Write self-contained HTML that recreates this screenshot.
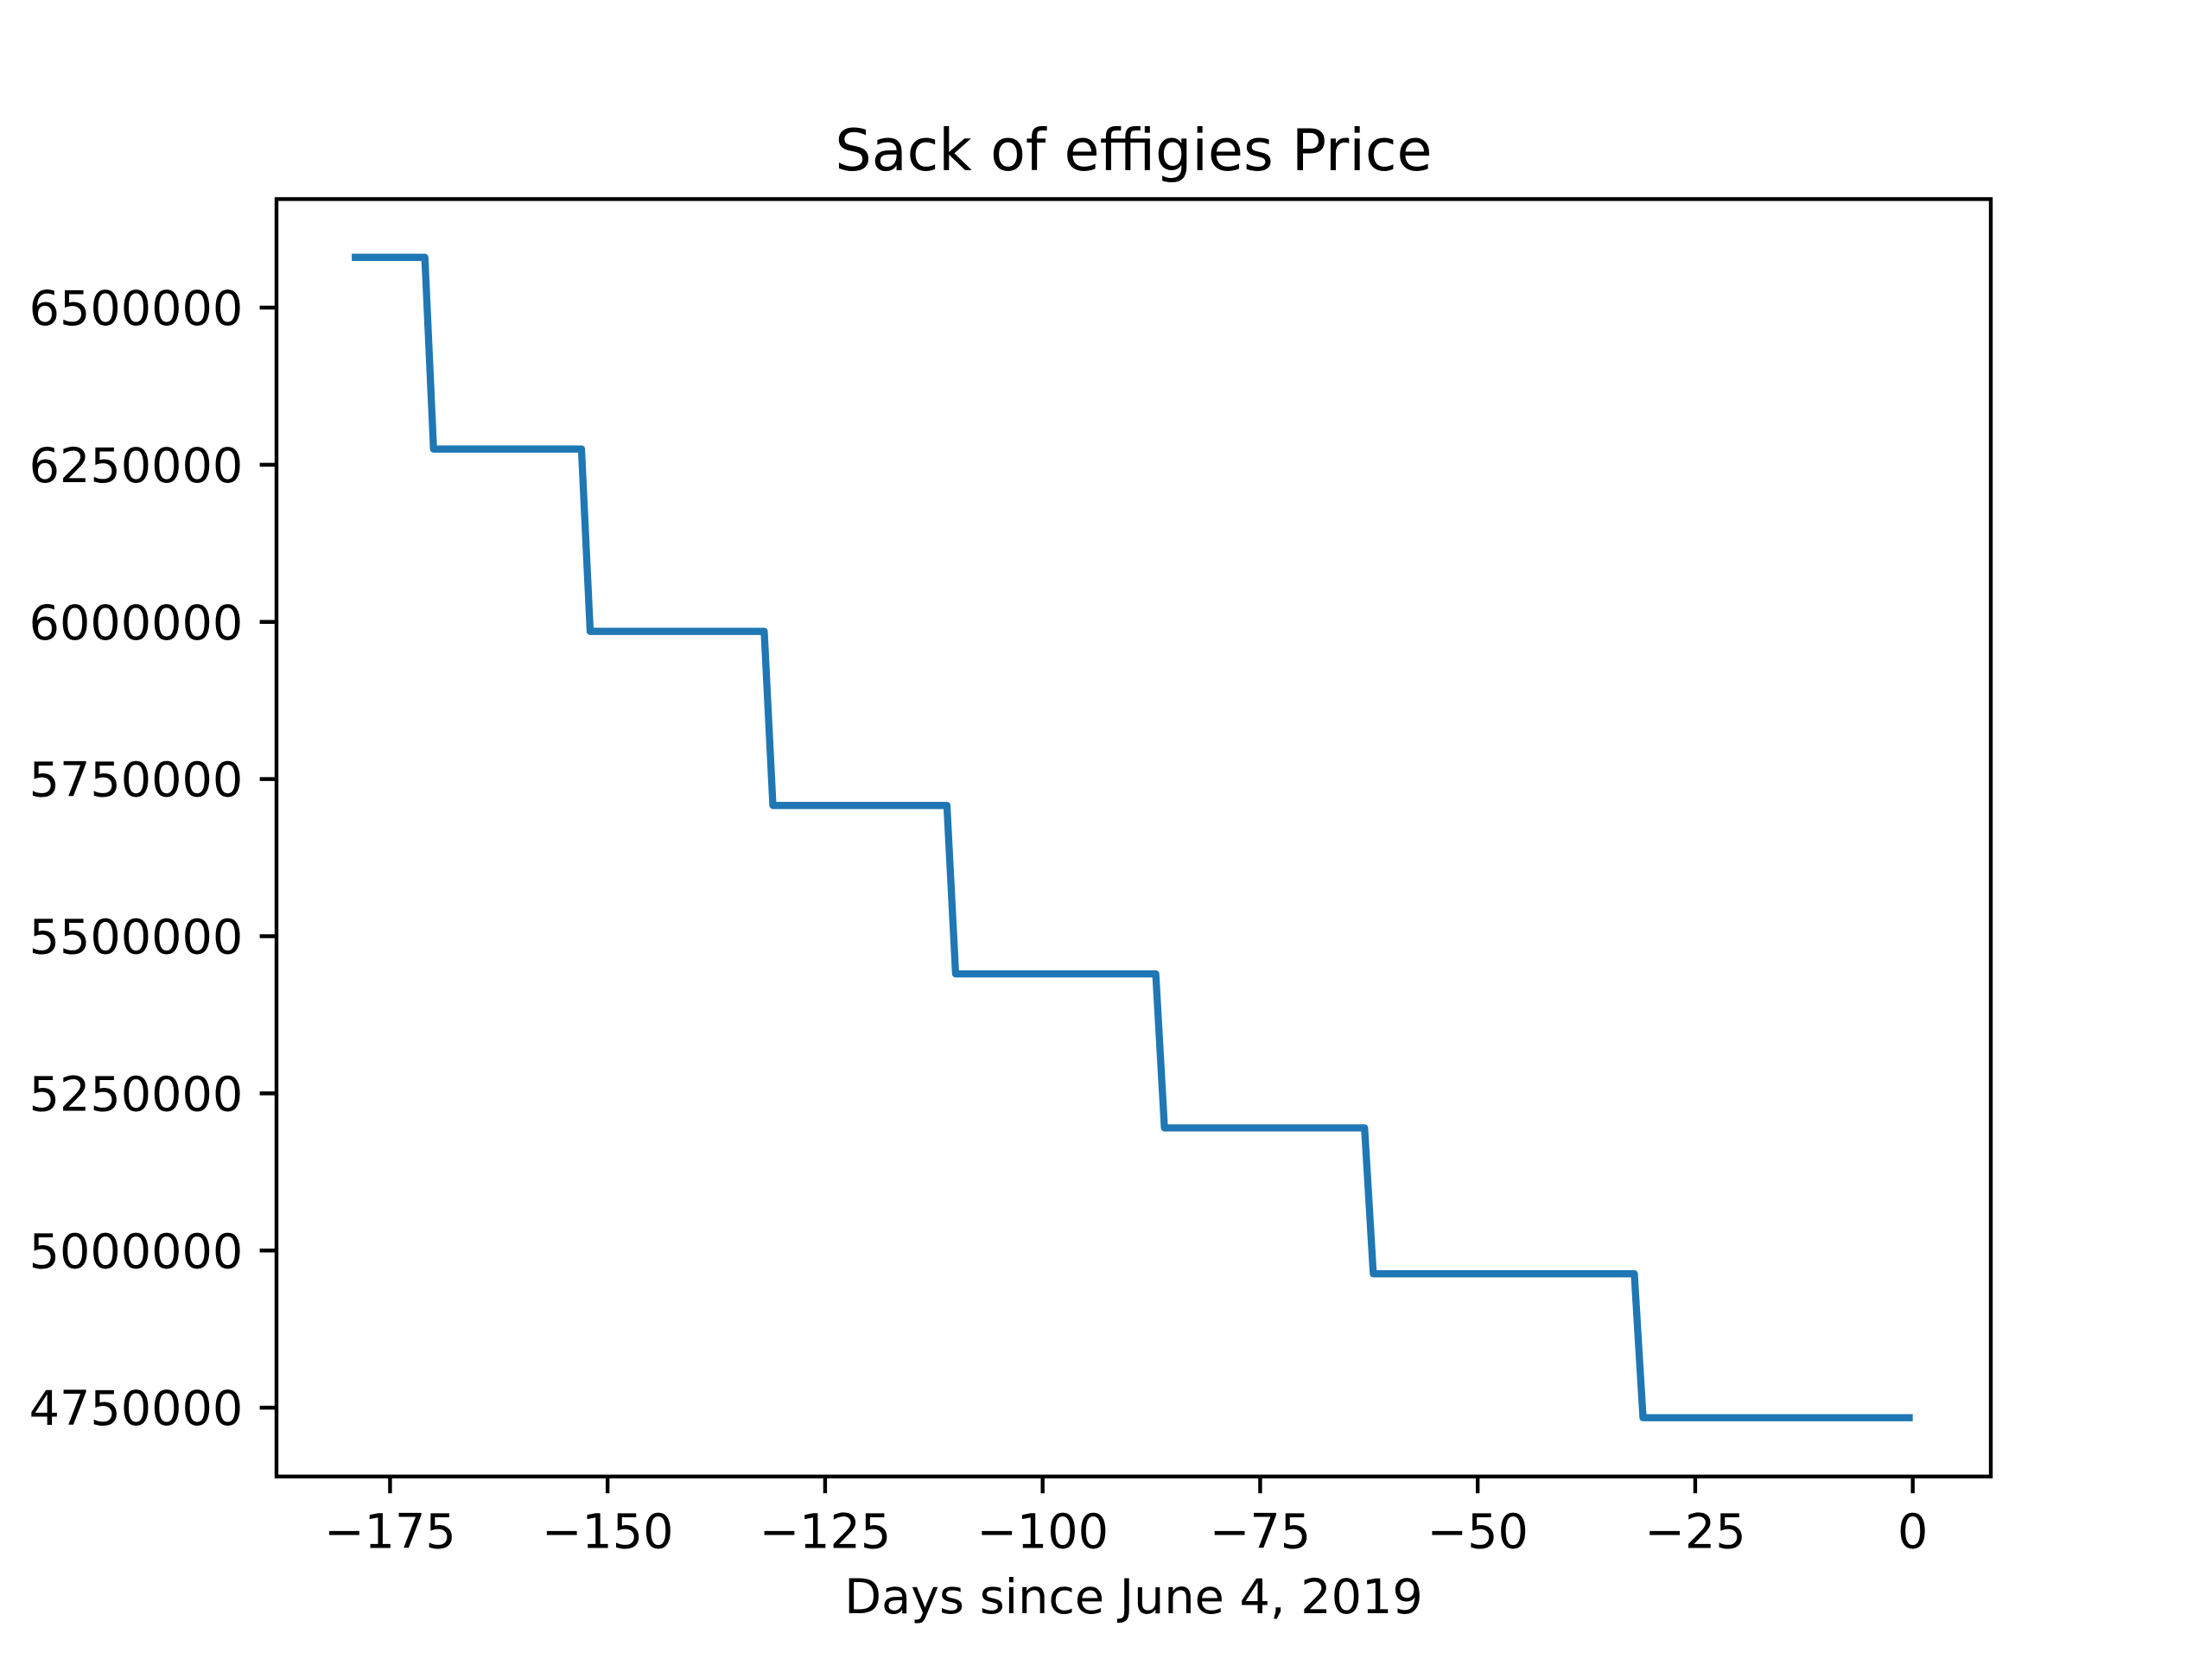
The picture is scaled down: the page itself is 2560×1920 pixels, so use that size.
<!DOCTYPE html>
<html><head><meta charset="utf-8"><style>
html,body{margin:0;padding:0;background:#fff;}
svg{display:block;}
text{font-family:"DejaVu Sans","Liberation Sans",sans-serif;fill:#000;}
</style></head><body>
<svg id="chart" width="2560" height="1920" xmlns="http://www.w3.org/2000/svg">
<rect width="2560" height="1920" fill="#fff"/>
<text x="1312" y="197" font-size="66.7" text-anchor="middle">Sack of effigies Price</text>
<text x="1312" y="1867" font-size="55.6" text-anchor="middle">Days since June 4, 2019</text>
<text transform="translate(-6,969) rotate(-90)" font-size="55.6" text-anchor="middle">Price</text>
<g id="ticks"></g>
<g id="series"></g>
<rect x="320" y="230.4" width="1984" height="1478.4" fill="none" stroke="#000" stroke-width="4.4"/>
</svg>
<script>
const days = [-179.4, -171, -170, -153, -152, -132, -131, -111, -110, -87, -86, -63, -62, -32, -31, 0];
const prices = [6580000, 6580000, 6275000, 6275000, 5985000, 5985000, 5708000, 5708000, 5440000, 5440000, 5195000, 5195000, 4963000, 4963000, 4734000, 4734000];
const xTicks = [-175, -150, -125, -100, -75, -50, -25, 0];
const yTicks = [4750000, 5000000, 5250000, 5500000, 5750000, 6000000, 6250000, 6500000];

const L = 320, R = 2304, T = 230.4, B = 1708.8;
const xMin = -188.05, xMax = 8.97;
function sx(v){ return L + (v - xMin) / (xMax - xMin) * (R - L); }
function sy(v){ return 356 + (6500000 - v) * 727.5e-6; }

const NS = "http://www.w3.org/2000/svg";
const tg = document.getElementById('ticks');
xTicks.forEach(t => {
  const x = sx(t);
  const ln = document.createElementNS(NS, 'line');
  ln.setAttribute('x1', x); ln.setAttribute('x2', x);
  ln.setAttribute('y1', B); ln.setAttribute('y2', B + 19.4);
  ln.setAttribute('stroke', '#000'); ln.setAttribute('stroke-width', 4.4);
  
  
  tg.appendChild(ln);
  const tx = document.createElementNS(NS, 'text');
  tx.setAttribute('x', x); tx.setAttribute('y', B + 38.8 + 44);
  tx.setAttribute('font-size', 55.6); tx.setAttribute('text-anchor', 'middle');
  tx.textContent = t < 0 ? '\u2212' + Math.abs(t) : String(t);
  
  
  tg.appendChild(tx);
});
yTicks.forEach(t => {
  const y = sy(t);
  const ln = document.createElementNS(NS, 'line');
  ln.setAttribute('x1', L - 19.4); ln.setAttribute('x2', L);
  ln.setAttribute('y1', y); ln.setAttribute('y2', y);
  ln.setAttribute('stroke', '#000'); ln.setAttribute('stroke-width', 4.4);
  
  
  tg.appendChild(ln);
  const tx = document.createElementNS(NS, 'text');
  tx.setAttribute('x', L - 38.8); tx.setAttribute('y', y + 20);
  tx.setAttribute('font-size', 55.6); tx.setAttribute('text-anchor', 'end');
  tx.textContent = String(t);
  
  
  tg.appendChild(tx);
});
const pl = document.createElementNS(NS, 'polyline');
pl.setAttribute('points', days.map((d, i) => sx(d) + ',' + sy(prices[i])).join(' '));
pl.setAttribute('fill', 'none');
pl.setAttribute('stroke', '#1f77b4');
pl.setAttribute('stroke-width', 8.3);
pl.setAttribute('stroke-linejoin', 'round');


document.getElementById('series').appendChild(pl);
</script>
</body></html>
